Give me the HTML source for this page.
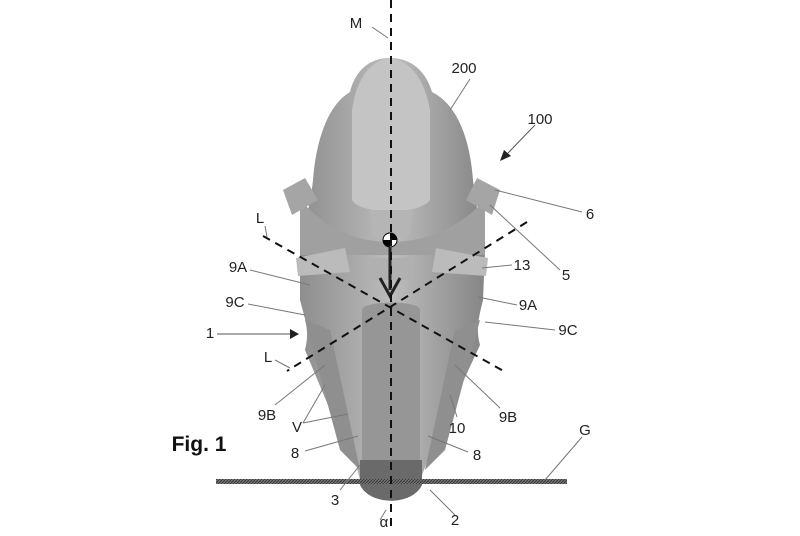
<!DOCTYPE html>
<html><head><style>
body{margin:0;background:#fff;width:800px;height:531px;overflow:hidden}
svg text{font-family:"Liberation Sans",sans-serif;font-size:15px;fill:#222;text-anchor:middle}
</style></head><body>
<svg width="800" height="531" viewBox="0 0 800 531" xmlns="http://www.w3.org/2000/svg">
<defs>
<linearGradient id="g1" x1="0" x2="1"><stop offset="0" stop-color="#8e8e8e"/><stop offset="0.5" stop-color="#bcbcbc"/><stop offset="1" stop-color="#858585"/></linearGradient>
<pattern id="h" width="3" height="3" patternUnits="userSpaceOnUse"><rect width="3" height="3" fill="#777"/><path d="M0 3L3 0" stroke="#333" stroke-width="1"/></pattern>
</defs>
<path d="M390 58 C368 58 355 72 350 92 C328 105 316 140 313 180 C310 210 302 230 300 250 L300 300 C305 320 310 330 305 350 L330 410 L355 460 L360 480 L420 480 L428 460 L450 410 L480 345 C476 330 478 320 483 300 L485 250 C482 230 476 210 473 180 C470 140 458 105 432 92 C426 72 412 58 390 58Z" fill="url(#g1)"/>
<path d="M390 58 C370 60 356 80 352 110 L352 200 C360 215 420 215 430 200 L430 110 C425 80 410 60 390 58Z" fill="#c4c4c4"/>
<path d="M370 210 L412 210 L410 235 L372 235Z" fill="#b5b5b5"/>
<path d="M300 200 C330 232 360 242 390 242 C420 242 455 232 485 200 L485 255 L300 255Z" fill="#a0a0a0"/>
<path d="M283 190 L305 178 L318 200 L292 215Z" fill="#a5a5a5"/>
<path d="M477 178 L500 190 L492 215 L466 200Z" fill="#a5a5a5"/>
<path d="M296 258 L345 248 L350 272 L298 276Z" fill="#bbb"/>
<path d="M436 248 L488 258 L486 276 L432 272Z" fill="#bbb"/>
<path d="M305 320 L330 330 L360 470 L340 450Z" fill="#8f8f8f"/>
<path d="M480 320 L455 330 L425 470 L445 450Z" fill="#8f8f8f"/>
<path d="M362 310 C362 300 420 300 420 310 L420 480 C410 505 370 505 362 480Z" fill="#969696"/>
<path d="M360 460 L422 460 L422 485 C412 506 370 506 360 485Z" fill="#6a6a6a"/>
<rect x="370" y="258" width="42" height="22" fill="#b0b0b0"/>
<circle cx="390" cy="240" r="7" fill="#fff" stroke="#000"/>
<path d="M390 233 A7 7 0 0 1 397 240 L390 240Z M390 247 A7 7 0 0 1 383 240 L390 240Z" fill="#000"/>
<path d="M390 247 L390 290" stroke="#222" stroke-width="3"/>
<path d="M380 278 L390 296 L400 278" stroke="#222" stroke-width="3" fill="none"/>
<rect x="216" y="479" width="351" height="5" fill="url(#h)"/>
<line x1="391" y1="0" x2="391" y2="531" stroke="#111" stroke-width="2" stroke-dasharray="8,6"/>
<line x1="263" y1="236" x2="507" y2="373" stroke="#111" stroke-width="2" stroke-dasharray="8,6"/>
<line x1="527" y1="222" x2="287" y2="371" stroke="#111" stroke-width="2" stroke-dasharray="8,6"/>
<g stroke="#777" stroke-width="1" fill="none">
<path d="M372 27 L388 38"/><path d="M470 79 L450 110"/><path d="M582 212 L495 190"/><path d="M560 270 L490 205"/>
<path d="M512 265 L482 268"/><path d="M517 305 L478 297"/><path d="M555 330 L485 322"/>
<path d="M250 270 L310 285"/><path d="M248 304 L305 315"/><path d="M275 405 L325 365"/><path d="M500 408 L455 365"/>
<path d="M303 423 L325 385 M303 423 L348 414"/><path d="M457 417 L450 395"/><path d="M305 451 L358 436"/><path d="M468 452 L428 436"/>
<path d="M340 490 L360 465"/><path d="M386 510 L380 520"/><path d="M455 515 L430 490"/><path d="M582 437 L545 480"/>
<path d="M265 226 L267 237"/><path d="M275 360 L290 368"/>
</g>
<line x1="217" y1="334" x2="290" y2="334" stroke="#555" stroke-width="1"/>
<path d="M290 329 L299 334 L290 339Z" fill="#222"/>
<line x1="535" y1="125" x2="508" y2="153" stroke="#555"/><path d="M500 161 L504 150 L511 156Z" fill="#222"/>
<text x="356" y="28">M</text><text x="464" y="73">200</text><text x="540" y="124">100</text>
<text x="590" y="219">6</text><text x="566" y="280">5</text><text x="522" y="270">13</text>
<text x="528" y="310">9A</text><text x="568" y="335">9C</text><text x="508" y="422">9B</text><text x="457" y="433">10</text>
<text x="477" y="460">8</text><text x="585" y="435">G</text><text x="455" y="525">2</text><text x="384" y="527">α</text>
<text x="335" y="505">3</text><text x="295" y="458">8</text><text x="297" y="432">V</text><text x="267" y="420">9B</text>
<text x="268" y="362">L</text><text x="260" y="223">L</text><text x="238" y="272">9A</text><text x="235" y="307">9C</text>
<text x="210" y="338">1</text>
<text x="199" y="451" style="font-size:21px;font-weight:bold;fill:#111">Fig. 1</text>
</svg>
</body></html>
